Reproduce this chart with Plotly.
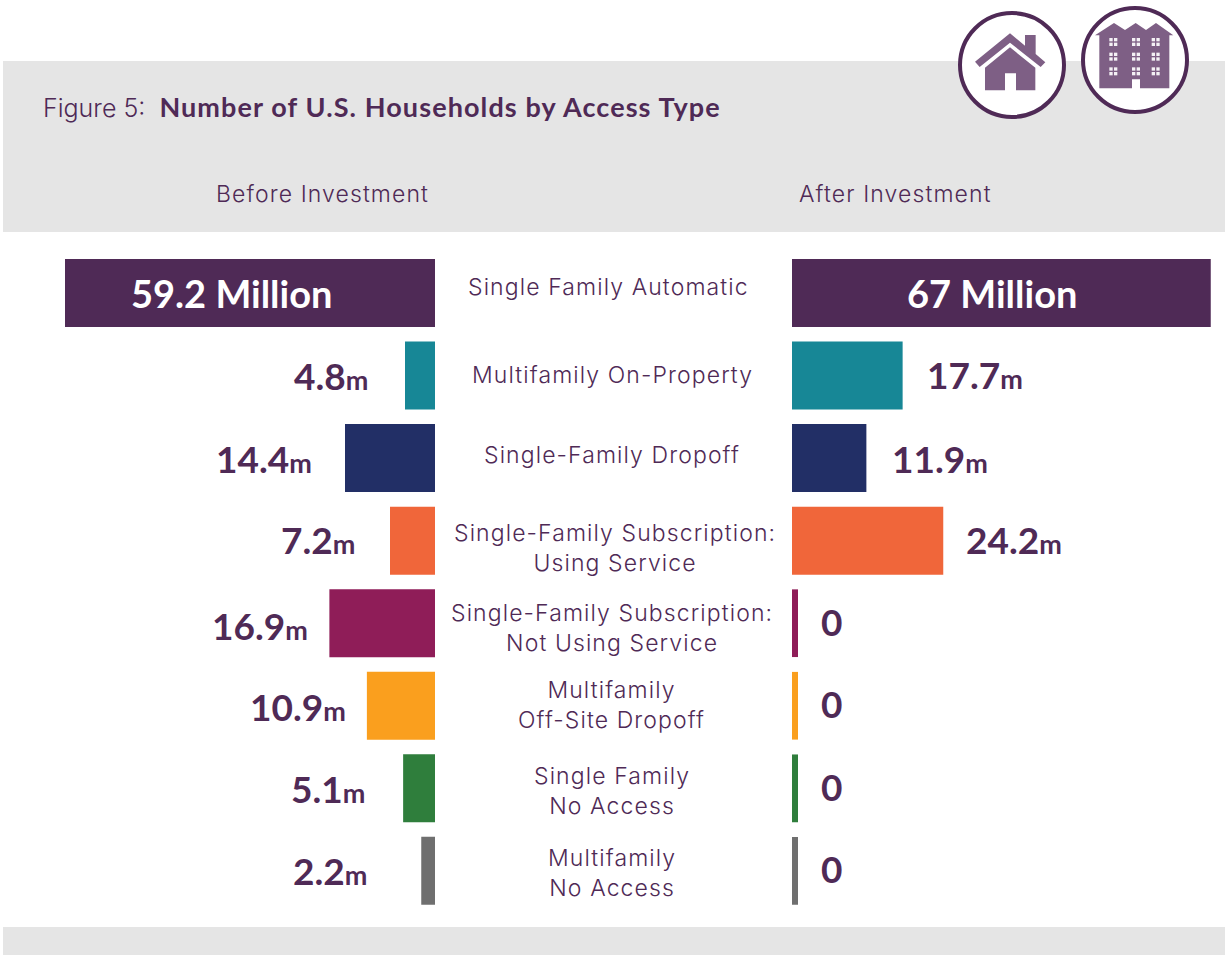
import plotly.graph_objects as go

W, H = 1225, 955

# ---------- data ----------
categories = [
    "Single Family Automatic",
    "Multifamily On-Property",
    "Single-Family Dropoff",
    "Single-Family Subscription:<br>Using Service",
    "Single-Family Subscription:<br>Not Using Service",
    "Multifamily<br>Off-Site Dropoff",
    "Single Family<br>No Access",
    "Multifamily<br>No Access",
]
before_millions = [59.2, 4.8, 14.4, 7.2, 16.9, 10.9, 5.1, 2.2]
after_millions = [67, 17.7, 11.9, 24.2, 0, 0, 0, 0]
big_labels_before = "59.2 Million"
big_labels_after = "67 Million"
colors = ["#4f2a56", "#178796", "#222f66", "#f0663a",
          "#8f1d58", "#fa9f1e", "#2f7e3c", "#6f6f6f"]

# ---------- style / layout ----------
PURPLE = "#4f2a56"
ICON = "#7e5f85"
BAND = "#e5e5e5"
LIGHT = "Inter"
BOLD = "Lato"
px_per_m = 6.25
left_base = 435
right_base = 792
row0, pitch = 293, 82.55
plot_top = row0 - pitch / 2
plot_bot = row0 + 7.5 * pitch
n = len(categories)

def fx(p): return p / W
def fy(p): return 1 - p / H
def path(points):
    return "M" + " L".join(f"{fx(x):.5f},{fy(y):.5f}" for x, y in points) + " Z"
def zoomed(points):
    return [(940 + x / 3, y / 3) for x, y in points]
def icon(points, color=ICON):
    return dict(type="path", xref="paper", yref="paper", path=path(zoomed(points)),
                fillcolor=color, line=dict(width=0), layer="above")
def circle(cx, cy, r):
    return dict(type="circle", xref="paper", yref="paper", x0=fx(cx - r), x1=fx(cx + r),
                y0=fy(cy + r), y1=fy(cy - r), fillcolor="white",
                line=dict(color=PURPLE, width=4), layer="above")
def rect(x0, y0, x1, y1, color):
    return dict(type="rect", xref="paper", yref="paper", x0=fx(x0), x1=fx(x1),
                y0=fy(y1), y1=fy(y0), fillcolor=color, line=dict(width=0), layer="below")
def spaced(text, ls=1.1):
    return "<br>".join(f"<span style='letter-spacing:{ls}px'>{t}</span>" for t in text.split("<br>"))

shapes = [rect(3, 61, W, 232, BAND), rect(3, 927, W, H, BAND),
          circle(1012, 65, 52), circle(1135, 60, 52)]
# house icon
shapes.append(icon([(105, 185), (210, 100), (255, 137), (255, 105), (287, 105), (287, 162),
                    (316, 187), (302, 201), (210, 128), (119, 201)]))
shapes.append(icon([(135, 203), (210, 142), (286, 203), (286, 271), (228, 271), (228, 220),
                    (195, 220), (195, 271), (135, 271)]))
# building icon
shapes.append(icon([(465, 106), (522, 69), (555, 90), (587, 69), (618, 90), (648, 69), (700, 106),
                    (688, 106), (688, 265), (600, 265), (600, 238), (576, 238), (576, 265),
                    (478, 265), (478, 106)]))
for wx in (520, 588, 647):
    for wy in (126, 170, 214):
        for dx, dy in ((-12, -12), (2, -12), (-12, 2), (2, 2)):
            shapes.append(icon([(wx + dx, wy + dy), (wx + dx + 10, wy + dy),
                                (wx + dx + 10, wy + dy + 10), (wx + dx, wy + dy + 10)], "#f4f1f5"))

# zero-value "After" rows keep a thin coloured stub
for i, v in enumerate(after_millions):
    if v == 0:
        shapes.append(dict(type="rect", xref="x2", yref="y2", xsizemode="pixel", xanchor=0,
                           x0=0, x1=6, y0=i - 0.41, y1=i + 0.41,
                           fillcolor=colors[i], line=dict(width=0), layer="above"))

def value_text(v):
    if v == 0:
        return "<b>0</b>"
    return f"<b>{v}<span style='font-size:27px'>m</span></b>"

ann = []
# centre labels
label_cx = [608, 612, 612, 615, 612, 611, 612, 612]
label_dy = [-6, -1, -3, 7, 5, -1, 3, 2]
for i, c in enumerate(categories):
    ann.append(dict(xref="paper", yref="y", x=fx(label_cx[i]), y=i, yshift=-label_dy[i], text=spaced(c),
                    showarrow=False, xanchor="center", yanchor="middle",
                    font=dict(family=LIGHT, size=23, color=PURPLE, weight=300)))
# before / after value labels
left_gap = [0, 35, 31, 33, 19, 19, 36, 52]
left_dy = [0, 0, 0, 1, -2, -1, 0, 0]
right_gap = [0, 22, 24, 21, 27, 27, 27, 27]
right_dy = [0, 1, 0, 1, 2, 2, 2, 2]
for i in range(1, n):
    ann.append(dict(xref="x", yref="y", x=before_millions[i], y=i, xshift=-left_gap[i], yshift=left_dy[i],
                    text=value_text(before_millions[i]), showarrow=False, xanchor="right",
                    yanchor="middle", font=dict(family=BOLD, size=37, color=PURPLE)))
    ann.append(dict(xref="x2", yref="y2", x=after_millions[i], y=i, xshift=right_gap[i], yshift=right_dy[i],
                    text=value_text(after_millions[i]), showarrow=False, xanchor="left",
                    yanchor="middle", font=dict(family=BOLD, size=37, color=PURPLE)))
# big labels in the top bars
ann.append(dict(xref="paper", yref="y", x=fx(231), y=0, text=f"<b>{big_labels_before}</b>", xanchor="center",
                yanchor="middle", showarrow=False, font=dict(family=BOLD, size=38, color="white")))
ann.append(dict(xref="paper", yref="y", x=fx(992), y=0, text=f"<b>{big_labels_after}</b>", xanchor="center",
                yanchor="middle", showarrow=False, font=dict(family=BOLD, size=38, color="white")))
# column headings
ann.append(dict(xref="paper", yref="paper", x=fx(322), y=fy(194), text=spaced("Before Investment"), xanchor="center",
                yanchor="middle", showarrow=False, font=dict(family=LIGHT, size=23, color=PURPLE, weight=300)))
ann.append(dict(xref="paper", yref="paper", x=fx(895), y=fy(194), text=spaced("After Investment"), xanchor="center",
                yanchor="middle", showarrow=False, font=dict(family=LIGHT, size=23, color=PURPLE, weight=300)))

fig = go.Figure()
fig.add_bar(y=list(range(n)), x=before_millions, orientation="h", marker=dict(color=colors, line=dict(width=0)),
            xaxis="x", yaxis="y", width=0.824, hoverinfo="skip", showlegend=False)
fig.add_bar(y=list(range(n)), x=after_millions, orientation="h", marker=dict(color=colors, line=dict(width=0)),
            xaxis="x2", yaxis="y2", width=0.824, hoverinfo="skip", showlegend=False)

y_axis = dict(visible=False, range=[n - 0.5, -0.5], domain=[fy(plot_bot), fy(plot_top)], fixedrange=True)
fig.update_layout(
    width=W, height=H, autosize=False,
    margin=dict(l=0, r=0, t=0, b=0),
    paper_bgcolor="white", plot_bgcolor="rgba(0,0,0,0)",
    title=dict(text="Figure 5:&nbsp; <span style='font-family:Lato;font-size:27px;letter-spacing:1.1px'><b>Number of U.S. Households by Access Type</b></span>",
               xref="paper", yref="paper", x=fx(43), y=fy(108), xanchor="left", yanchor="middle",
               font=dict(family=LIGHT, size=25, color=PURPLE, weight=300)),
    xaxis=dict(visible=False, domain=[0, fx(left_base)], range=[left_base / px_per_m, 0], fixedrange=True),
    xaxis2=dict(visible=False, domain=[fx(right_base), 1], range=[0, (W - right_base) / px_per_m], fixedrange=True),
    yaxis=y_axis,
    yaxis2=dict(y_axis, anchor="x2"),
    shapes=shapes, annotations=ann,
)
fig.write_html("out.html", config=dict(displayModeBar=False),
               post_script="document.body.style.margin='0';document.documentElement.style.overflow='hidden';")
